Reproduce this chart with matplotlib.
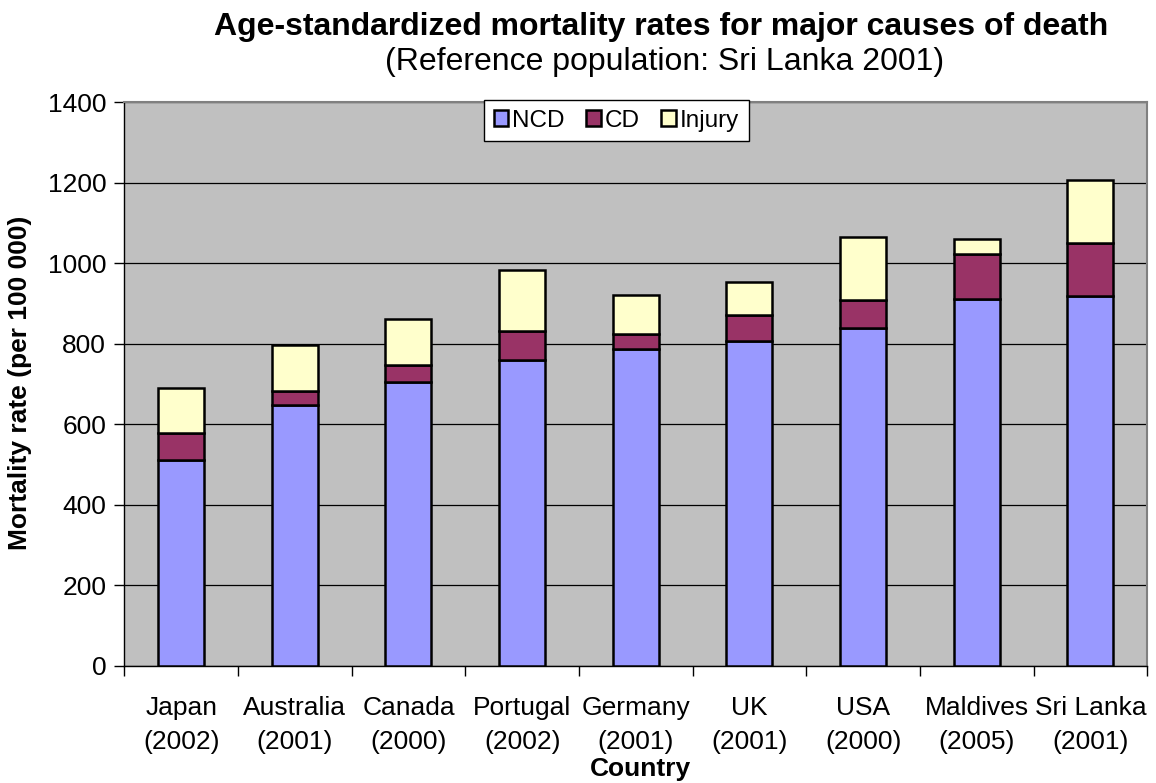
import matplotlib
matplotlib.use("Agg")
import matplotlib.pyplot as plt
import numpy as np

plt.rcParams['font.family'] = ['Liberation Sans', 'DejaVu Sans']

countries = ["Japan\n(2002)", "Australia\n(2001)", "Canada\n(2000)", "Portugal\n(2002)",
             "Germany\n(2001)", "UK\n(2001)", "USA\n(2000)", "Maldives\n(2005)", "Sri Lanka\n(2001)"]
ncd = [510, 649, 705, 759, 788, 808, 840, 911, 919]
cd = [69, 34, 41, 73, 37, 63, 68, 112, 131]
injury = [112, 113, 116, 152, 96, 82, 157, 37, 158]
yticks = [0, 200, 400, 600, 800, 1000, 1200, 1400]

fig = plt.figure(figsize=(11.56, 7.83), dpi=100)
ax = fig.add_axes([124.3/1156, 1-665.7/783, (1147.3-124.3)/1156, (665.7-102.3)/783])
ax.set_facecolor('#C0C0C0')

x = np.arange(len(countries))
w = 0.405
ncd_a = np.array(ncd); cd_a = np.array(cd); inj_a = np.array(injury)
ax.bar(x, ncd_a, w, color='#9999FF', edgecolor='black', linewidth=1.8, label='NCD', zorder=3)
ax.bar(x, cd_a, w, bottom=ncd_a, color='#993366', edgecolor='black', linewidth=1.8, label='CD', zorder=3)
ax.bar(x, inj_a, w, bottom=ncd_a+cd_a, color='#FFFFCC', edgecolor='black', linewidth=1.8, label='Injury', zorder=3)

ax.set_xlim(-0.5, len(countries)-0.5)
ax.set_ylim(0, 1400)
ax.set_yticks(yticks)
ax.set_yticklabels([str(v) for v in yticks], fontsize=19)
ax.yaxis.grid(True, color='black', linewidth=0.9, zorder=0)
ax.set_axisbelow(True)

ax.set_xticks(x)
ax.set_xticklabels(countries, fontsize=19, linespacing=1.5)
ax.tick_params(axis='x', length=0, pad=22)
ax.set_xticks(np.arange(len(countries)+1)-0.5, minor=True)
ax.tick_params(axis='x', which='minor', length=7, width=1, color='black', direction='out')
ax.tick_params(axis='y', length=7, width=1, direction='out', pad=6)

for s in ['top', 'right']:
    ax.spines[s].set_color('#808080')
    ax.spines[s].set_linewidth(1.5)
for s in ['left', 'bottom']:
    ax.spines[s].set_color('black')
    ax.spines[s].set_linewidth(1)

fig.text(640/1156, 1-769/783, 'Country', ha='center', va='center', fontsize=19, fontweight='bold')
fig.text(20/1156, 1-383/783, 'Mortality rate (per 100 000)', ha='center', va='center',
         rotation=90, fontsize=19, fontweight='bold')

fig.text(661/1156, 1-27/783, 'Age-standardized mortality rates for major causes of death',
         ha='center', va='center', fontsize=23, fontweight='bold')
fig.text(665/1156, 1-62/783, '(Reference population: Sri Lanka 2001)',
         ha='center', va='center', fontsize=23)

leg = fig.legend(loc='upper left', bbox_to_anchor=(484/1156, 1-100/783), ncol=3, fontsize=17.5,
                 frameon=True, fancybox=False, edgecolor='black', framealpha=1,
                 handlelength=0.6, handleheight=0.6, handletextpad=0.15, columnspacing=0.9,
                 borderpad=0.4, borderaxespad=0)
leg.get_frame().set_linewidth(1.0)

fig.savefig('out.png', dpi=100)
